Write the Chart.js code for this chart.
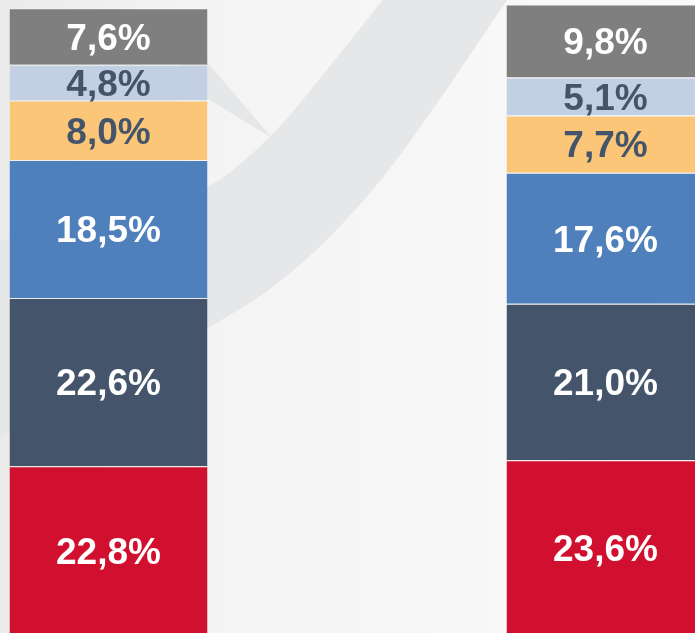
<!DOCTYPE html>
<html>
<head>
<meta charset="utf-8">
<script src="https://cdn.jsdelivr.net/npm/chart.js@4.4.1/dist/chart.umd.min.js"></script>
<style>
  html, body { margin: 0; padding: 0; overflow: hidden; background: #f4f4f4; }
  #wrap { position: relative; width: 695px; height: 633px; overflow: hidden; }
  #myChart { position: absolute; left: -140px; top: 0; }
</style>
</head>
<body>
<div id="wrap">
  <canvas id="myChart" width="994" height="636"></canvas>
</div>
<script>
// two columns, six stacked shares each (bottom -> top)
var categories = ["1", "2"];
var seriesNames = ["S1", "S2", "S3", "S4", "S5", "S6"];
var red = [22.8, 23.6];
var slate = [22.6, 21.0];
var blue = [18.5, 17.6];
var yellow = [8.0, 7.7];
var pale = [4.8, 5.1];
var grey = [7.6, 9.8];

var colors = ["#d0102e", "#44546a", "#4f80bb", "#fbc677", "#c3cfe2", "#7f7f7f"];
var labelColors = ["#ffffff", "#ffffff", "#ffffff", "#44546a", "#44546a", "#ffffff"];
var values = [red, slate, blue, yellow, pale, grey];

var OFFSET = 140; // canvas is shifted left by this much

// smooth path through a list of points
function smooth(ctx, pts, first) {
  if (first) ctx.moveTo(pts[0][0], pts[0][1]);
  else ctx.lineTo(pts[0][0], pts[0][1]);
  for (var i = 1; i < pts.length - 1; i++) {
    var mx = (pts[i][0] + pts[i + 1][0]) / 2;
    var my = (pts[i][1] + pts[i + 1][1]) / 2;
    ctx.quadraticCurveTo(pts[i][0], pts[i][1], mx, my);
  }
  var last = pts[pts.length - 1];
  ctx.lineTo(last[0], last[1]);
}

// background with the grey swoosh
var backdrop = {
  id: "backdrop",
  beforeDraw: function (chart) {
    var ctx = chart.ctx;
    ctx.save();
    ctx.translate(OFFSET, 0);
    var g = ctx.createLinearGradient(0, 0, 695, 0);
    g.addColorStop(0, "#ebebeb");
    g.addColorStop(0.3, "#f4f4f4");
    g.addColorStop(1, "#fafafa");
    ctx.fillStyle = g;
    ctx.fillRect(-OFFSET, 0, chart.width, chart.height);

    ctx.fillStyle = "#e6e7e9";
    // main band
    ctx.beginPath();
    var outer = [[398, -20], [383, 0], [330, 66], [272, 138], [200, 197], [100, 228], [-20, 242]];
    var inner = [[-20, 445], [100, 392], [200, 333], [283, 283], [367, 200], [433, 110], [507, 0], [520, -20]];
    smooth(ctx, outer, true);
    smooth(ctx, inner, false);
    ctx.closePath();
    ctx.fill();

    // thin wedge pointing right
    ctx.beginPath();
    ctx.moveTo(180, 30);
    ctx.lineTo(272, 138);
    ctx.lineTo(180, 82);
    ctx.closePath();
    ctx.fill();
    ctx.restore();
  }
};

// value labels in the middle of each segment
var segLabels = {
  id: "segLabels",
  afterDatasetsDraw: function (chart) {
    var ctx = chart.ctx;
    ctx.save();
    ctx.font = "bold 37px 'Liberation Sans', Arial, sans-serif";
    ctx.textAlign = "center";
    ctx.textBaseline = "middle";
    chart.data.datasets.forEach(function (ds, i) {
      var meta = chart.getDatasetMeta(i);
      meta.data.forEach(function (bar, j) {
        var v = ds.data[j];
        var txt = v.toFixed(1).replace(".", ",") + "%";
        ctx.fillStyle = labelColors[i];
        ctx.fillText(txt, bar.x, (bar.y + bar.base) / 2 + 3);
      });
    });
    ctx.restore();
  }
};

var datasets = [];
for (var i = 0; i < values.length; i++) {
  datasets.push({
    label: seriesNames[i],
    data: values[i],
    backgroundColor: colors[i],
    borderColor: "rgba(255,255,255,0.25)",
    borderWidth: { top: 1, left: 0, right: 0, bottom: 0 },
    borderSkipped: false,
    barPercentage: 1,
    categoryPercentage: 0.3984
  });
}

var ctx = document.getElementById("myChart").getContext("2d");
var myChart = new Chart(ctx, {
  type: "bar",
  data: {
    labels: categories,
    datasets: datasets
  },
  options: {
    responsive: false,
    animation: false,
    layout: { padding: 0 },
    scales: {
      x: { stacked: true, display: false },
      y: { stacked: true, display: false, min: 0, max: 85.4 }
    },
    plugins: {
      legend: { display: false },
      tooltip: { enabled: false }
    }
  },
  plugins: [backdrop, segLabels]
});
</script>
</body>
</html>
